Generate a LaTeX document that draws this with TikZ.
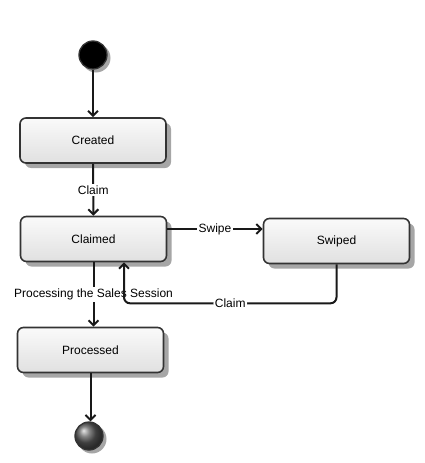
\documentclass[tikz,border=0pt]{standalone}
\usepackage{fontspec}
\setmainfont{Liberation Sans}
\usetikzlibrary{arrows.meta,calc,positioning,backgrounds}
\tikzset{trans/.style={line width=2pt, draw=black!90, -{Straight Barb[length=5pt,width=10pt]}},
  state/.style={draw=black!80, line width=1.6pt, rounded corners=6pt, minimum width=146pt, minimum height=45pt,
    top color=black!2, bottom color=black!12},
  shade/.style={fill=black!35},
  lbl/.style={fill=white, inner sep=1.5pt},
  initst/.style={circle, draw=black!80, line width=1.3pt, fill=black, minimum size=28pt, inner sep=0pt},
  finalst/.style={circle, draw=black!80, line width=1.3pt, ball color=black!65, minimum size=28pt, inner sep=0pt}}

\begin{document}
\begin{tikzpicture}[x=1pt, y=-1pt, font=\fontsize{12}{14}\selectfont]
  \useasboundingbox (0,0) rectangle (425,463);
  % shadows first
  \foreach \n/\x/\y in {created/93/140.5, claimed/93.5/239, swiped/336.5/241, processed/90.5/350}{
    \fill[shade, rounded corners=6pt] (\x-73+5,\y-22.5+5) rectangle (\x+73+5,\y+22.5+5);}
  \foreach \x/\y in {93/55, 89/436}{
    \fill[shade] (\x+3,\y+3) circle (14.5);}
  % states
  \node[initst] (start)     at (93,55)    {};
  \node[state]  (created)   at (93,140.5) {Created};
  \node[state]  (claimed)   at (93.5,239) {Claimed};
  \node[state]  (swiped)    at (336.5,241) {Swiped};
  \node[state]  (processed) at (90.5,350) {Processed};
  \node[finalst] (final)    at (89,436)   {};
  \coordinate (swipeout) at ([yshift=10pt]claimed.east);
  % transitions
  \draw[trans] (start) -- (created);
  \draw[trans] (created) -- node[lbl] {Claim} (claimed);
  \draw[trans] (swipeout) -- node[lbl] {Swipe} (swiped.west |- swipeout);
  \draw[trans] (claimed.south) -- node[lbl, pos=0.5] {Processing the Sales Session} (claimed.south |- processed.north);
  \draw[trans, rounded corners=6pt] (swiped.south) -- ++(0,39) -| node[lbl, pos=0.25] {Claim} ($(claimed.south)+(30.5,0)$);
  \draw[trans] (processed) -- (processed.south |- final.north);
\end{tikzpicture}
\end{document}
